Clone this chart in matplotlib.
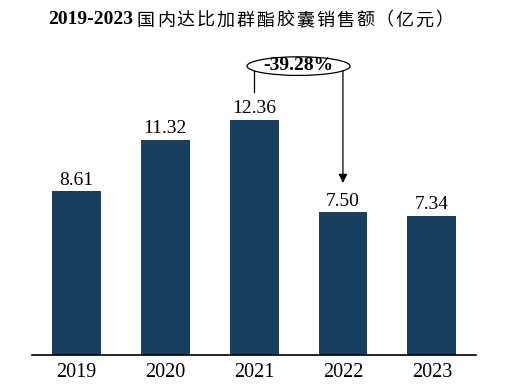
import matplotlib.pyplot as plt
from matplotlib.patches import Ellipse

years = ['2019', '2020', '2021', '2022', '2023']
sales = [8.61, 11.32, 12.36, 7.50, 7.34]
change_label = '-39.28%'
title_num = '2019-2023'
title_cn = '国内达比加群酯胶囊销售额（亿元）'

bar_color = '#173F5F'
serif = ['Liberation Serif', 'Noto Sans CJK SC']

fig = plt.figure(figsize=(5.22, 3.91), dpi=100)
ax = fig.add_axes([0.0613, 0.092, 0.851, 0.806])

x = range(len(years))
ax.bar(x, sales, width=0.55, color=bar_color)

# value labels above bars
for a, b in zip(x, sales):
    ax.text(a, b + 0.15, '%.2f' % b, ha='center', va='bottom',
            fontsize=14, family=serif)

ax.set_xlim(-0.5, 4.5)
ax.set_ylim(0, 16.58)
ax.set_xticks(list(x))
ax.set_xticklabels(years, fontsize=14.5, family=serif)
ax.tick_params(axis='x', length=0, pad=6)
ax.set_yticks([])
for s in ['left', 'right', 'top']:
    ax.spines[s].set_visible(False)
ax.spines['bottom'].set_linewidth(1.2)

# change annotation 2021 -> 2022
ell = Ellipse((2.5, 15.2), 1.16, 0.98, facecolor='white', edgecolor='black',
              linewidth=0.9, clip_on=False)
ax.add_patch(ell)
ax.text(2.5, 15.22, change_label, ha='center', va='center', fontsize=14,
        fontweight='bold', family=serif)
ax.plot([2, 2], [13.84, 14.95], color='black', linewidth=0.9, clip_on=False)
ax.annotate('', xy=(3, 9.05), xytext=(3, 14.95),
            arrowprops=dict(arrowstyle='-|>', color='black', lw=0.9,
                            mutation_scale=13, shrinkA=0, shrinkB=0))

# title: bold serif years + spaced CJK characters
fig.text(48 / 522, 0.949, title_num, ha='left', va='center',
         fontsize=14, fontweight='bold', family=serif)
for i, ch in enumerate(title_cn):
    fig.text((137 + 19.9 * i) / 522, 0.947, ch, ha='left', va='center',
             fontsize=13, fontweight='medium', family=['Noto Sans CJK SC'])

fig.savefig('out.png', dpi=100)
